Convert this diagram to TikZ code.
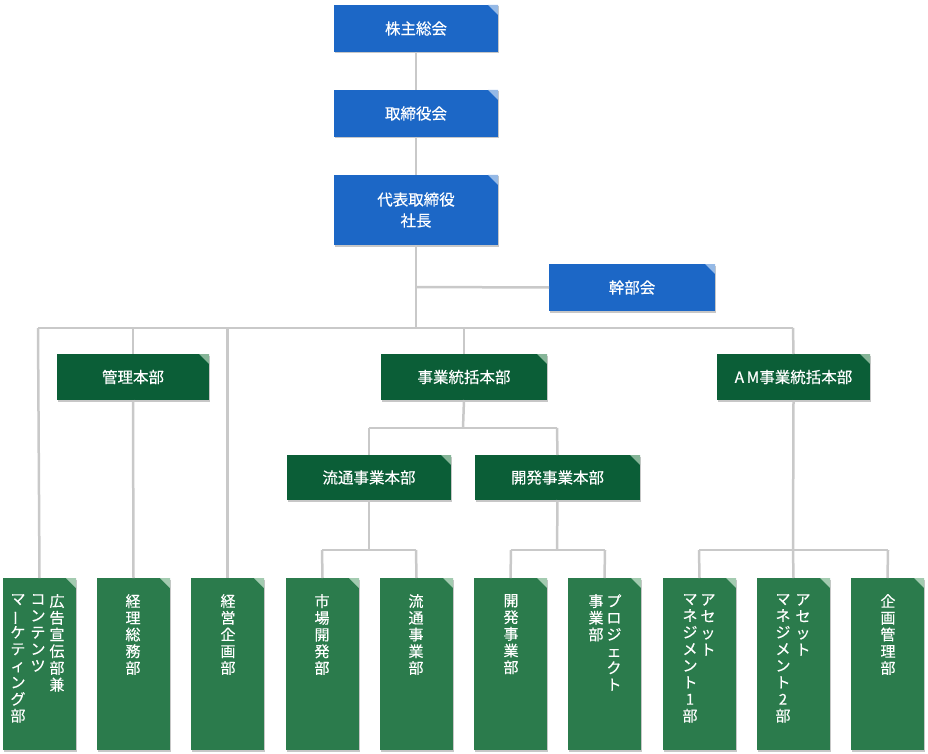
\documentclass[tikz,border=0pt]{standalone}
\usepackage{fontspec}
\usepackage{graphicx}
\newfontfamily\jp{Noto Sans CJK JP}[FakeBold=0.35]
\usetikzlibrary{shadows}
\definecolor{bbox}{HTML}{1C67C6}
\definecolor{bfold}{HTML}{95B9E6}
\definecolor{gbox}{HTML}{0B5E37}
\definecolor{gfold}{HTML}{86B598}
\definecolor{lbox}{HTML}{2B7B4C}
\definecolor{lfold}{HTML}{A3CBB0}
\definecolor{conn}{HTML}{C9C9C9}
\newcommand\vbar{\rotatebox[origin=c]{90}{ー}}
\tikzset{
  x=1pt, y=-1pt,
  boxbase/.style={anchor=north west, inner sep=0pt, outer sep=0pt, text=white,
    font=\jp\fontsize{15.5}{21}\selectfont, align=center,
    drop shadow={shadow xshift=1pt, shadow yshift=-1.5pt, fill=black, opacity=0.22}},
  bluebox/.style={boxbase, fill=bbox, path picture={\fill[bfold] (path picture bounding box.north east) -- ++(-10pt,0) -- ++(10pt,-10pt) -- cycle;}},
  greenbox/.style={boxbase, fill=gbox, path picture={\fill[gfold] (path picture bounding box.north east) -- ++(-10pt,0) -- ++(10pt,-10pt) -- cycle;}},
  leafbox/.style={boxbase, fill=lbox, minimum width=73pt, minimum height=172pt, path picture={\fill[lfold] (path picture bounding box.north east) -- ++(-10pt,0) -- ++(10pt,-10pt) -- cycle;}},
  vcol/.style={anchor=north, inner sep=0pt, text=white, align=center, font=\jp\fontsize{15}{16.7}\selectfont},
  conline/.style={draw=conn, line width=2.5pt},
}
\begin{document}
\begin{tikzpicture}
\useasboundingbox (0,0) rectangle (928,754);
\coordinate (c0) at (416,287);
\coordinate (bus) at (416,328);
\coordinate (busL) at (38,328);
\coordinate (busR) at (793,328);
\coordinate (j1) at (463,428);
\coordinate (j1L) at (369,428);
\coordinate (j1R) at (557,428);
\coordinate (r1) at (369,550);
\coordinate (r1L) at (322,550);
\coordinate (r1R) at (416,550);
\coordinate (k1) at (557,550);
\coordinate (k1L) at (511,550);
\coordinate (k1R) at (605,550);
\coordinate (a1) at (793,550);
\coordinate (a1L) at (699,550);
\coordinate (a1R) at (888,550);

% top boxes
\node[bluebox, minimum width=164pt, minimum height=47pt] (kabu) at (334,5) {株主総会};
\node[bluebox, minimum width=164pt, minimum height=47pt] (tori) at (334,90) {取締役会};
\node[bluebox, minimum width=164pt, minimum height=70pt] (ceo) at (334,175) {代表取締役\\社長};
\node[bluebox, minimum width=166pt, minimum height=47pt] (kanbu) at (549,264) {幹部会};

% middle boxes
\node[greenbox, minimum width=152pt, minimum height=46pt] (kanri) at (57,354) {管理本部};
\node[greenbox, minimum width=166pt, minimum height=46pt] (jigyo) at (381,354) {事業統括本部};
\node[greenbox, minimum width=153pt, minimum height=46pt] (am) at (717,354) {A\,M事業統括本部};
\node[greenbox, minimum width=164pt, minimum height=45pt] (ryutsu) at (287,455) {流通事業本部};
\node[greenbox, minimum width=165pt, minimum height=45pt] (kaihatsu) at (475,455) {開発事業本部};

% leaf boxes
\node[leafbox] (l1) at (3,578) {};
\node[leafbox] (l2) at (97,578) {};
\node[leafbox] (l3) at (191,578) {};
\node[leafbox] (l4) at (286,578) {};
\node[leafbox] (l5) at (380,578) {};
\node[leafbox] (l6) at (474,578) {};
\node[leafbox] (l7) at (568,578) {};
\node[leafbox] (l8) at (663,578) {};
\node[leafbox] (l9) at (757,578) {};
\node[leafbox] (l10) at (851,578) {};

% connectors
\draw[conline] (kabu.south) -- (tori.north);
\draw[conline] (tori.south) -- (ceo.north);
\draw[conline] (ceo.south) -- (bus);
\draw[conline] (c0) -- (kanbu.west);
\draw[conline] (busL) -- (busR);
\draw[conline] (busL) -- (l1.north);
\draw[conline] (kanri.north |- bus) -- (kanri.north);
\draw[conline] (kanri.south) -- (l2.north);
\draw[conline] (l3.north |- bus) -- (l3.north);
\draw[conline] (jigyo.north |- bus) -- (jigyo.north);
\draw[conline] (busR) -- (am.north);
\draw[conline] (jigyo.south) -- (j1);
\draw[conline] (j1L) -- (j1R);
\draw[conline] (j1L) -- (ryutsu.north);
\draw[conline] (j1R) -- (kaihatsu.north);
\draw[conline] (ryutsu.south) -- (r1);
\draw[conline] (r1L) -- (r1R);
\draw[conline] (r1L) -- (l4.north);
\draw[conline] (r1R) -- (l5.north);
\draw[conline] (kaihatsu.south) -- (k1);
\draw[conline] (k1L) -- (k1R);
\draw[conline] (k1L) -- (l6.north);
\draw[conline] (k1R) -- (l7.north);
\draw[conline] (am.south) -- (a1);
\draw[conline] (a1L) -- (a1R);
\draw[conline] (a1L) -- (l8.north);
\draw[conline] (a1) -- (l9.north);
\draw[conline] (a1R) -- (l10.north);

% vertical texts
\node[vcol] (t1a) at (57,594) {広\\告\\宣\\伝\\部\\兼};
\node[vcol] (t1b) at (38,594) {コ\\ン\\テ\\ン\\ツ};
\node[vcol] (t1c) at (18,594) {マ\\\vbar\\ケ\\テ\\ィ\\ン\\グ\\部};
\node[vcol] (t2) at (133,594) {経\\理\\総\\務\\部};
\node[vcol] (t3) at (228,594) {経\\営\\企\\画\\部};
\node[vcol] (t4) at (322,594) {市\\場\\開\\発\\部};
\node[vcol] (t5) at (416,594) {流\\通\\事\\業\\部};
\node[vcol] (t6) at (511,594) {開\\発\\事\\業\\部};
\node[vcol] (t7a) at (614,594) {プ\\ロ\\ジ\\ェ\\ク\\ト};
\node[vcol] (t7b) at (596,594) {事\\業\\部};
\node[vcol] (t8a) at (708,594) {ア\\セ\\ッ\\ト};
\node[vcol] (t8b) at (690,594) {マ\\ネ\\ジ\\メ\\ン\\ト\\1\\部};
\node[vcol] (t9a) at (803,594) {ア\\セ\\ッ\\ト};
\node[vcol] (t9b) at (783,594) {マ\\ネ\\ジ\\メ\\ン\\ト\\2\\部};
\node[vcol] (t10) at (888,594) {企\\画\\管\\理\\部};
\end{tikzpicture}
\end{document}
